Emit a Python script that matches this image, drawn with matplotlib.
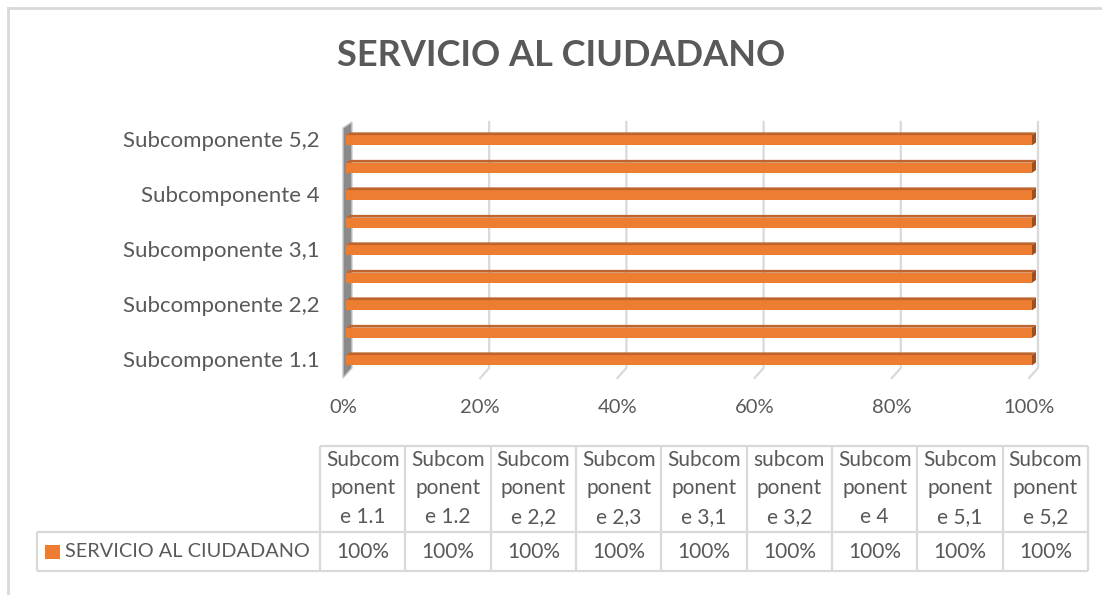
import matplotlib
matplotlib.use("Agg")
import matplotlib.pyplot as plt
from matplotlib.patches import Polygon, Rectangle

plt.rcParams['font.family'] = ['Lato', 'DejaVu Sans']

W, H = 1102, 595

titulo = 'SERVICIO AL CIUDADANO'
serie = 'SERVICIO AL CIUDADANO'
categorias = ['Subcomponente 1.1', 'Subcomponente 1.2', 'Subcomponente 2,2',
              'Subcomponente 2,3', 'Subcomponente 3,1', 'subcomponente 3,2',
              'Subcomponente 4', 'Subcomponente 5,1', 'Subcomponente 5,2']
valors = [1.0, 1.0, 1.0, 1.0, 1.0, 1.0, 1.0, 1.0, 1.0]
ticks_x = [0.0, 0.2, 0.4, 0.6, 0.8, 1.0]
ticks_x_labels = ['0%', '20%', '40%', '60%', '80%', '100%']

gris_text = '#595959'
gris_linia = '#D9D9D9'
taronja = '#ED7D31'
taronja_fosc = '#BE642C'
taronja_cap = '#9E4F1F'


def rect_px(x0, y0, x1, y1):
    return [x0 / W, 1 - y1 / H, (x1 - x0) / W, (y1 - y0) / H]


fig = plt.figure(figsize=(W / 100, H / 100), dpi=100)

# capa de fons en pixels per a vores i taula
fons = fig.add_axes([0, 0, 1, 1])
fons.set_xlim(0, W)
fons.set_ylim(H, 0)
fons.axis('off')

fons.plot([8, 8], [H, 8], color=gris_linia, lw=2)
fons.plot([8, W], [8, 8], color=gris_linia, lw=2)

fons.text(561, 55, titulo, ha='center', va='center', fontsize=26,
          fontweight='bold', color=gris_text)

# grafic de barres
ax = fig.add_axes(rect_px(343, 125.5, 1032, 373))
ax.set_xlim(0, 1)
ax.set_ylim(-0.5, len(categorias) - 0.5)
for s in ax.spines.values():
    s.set_visible(False)
ax.patch.set_alpha(0)

px_x = 1 / 689
px_y = 1 / 27.5
y_fons_dalt = 8.5 + 3.5 * px_y
y_fons_baix = -0.5 + 5 * px_y
y_front_baix = -0.5 - 5 * px_y

# linies de quadricula (pla del fons + terra inclinat)
for v in ticks_x[1:]:
    xb = v + 6 * px_x
    xf = v - 3 * px_x
    ax.plot([xb, xb, xf], [y_fons_dalt, y_fons_baix, y_front_baix],
            color=gris_linia, lw=1.6, clip_on=False, zorder=1)

# paret esquerra
paret = Polygon([(-3 * px_x, y_front_baix), (6 * px_x, y_fons_baix),
                 (6 * px_x, y_fons_dalt), (-3 * px_x, y_fons_dalt - 6 * px_y)],
                closed=True, facecolor='#8A8A8A', edgecolor='#C8C8C8', lw=1,
                clip_on=False, zorder=2)
ax.add_patch(paret)

# barres 3D
alt_front = 0.37
alt_top = 0.1
for i, v in enumerate(valors):
    y0 = i - 0.22
    y1 = y0 + alt_front
    ax.barh(y0 + alt_front / 2, v, height=alt_front, left=0,
            color=taronja, edgecolor='none', zorder=3)
    dx = 4 * px_x
    ax.add_patch(Polygon([(0, y1), (v, y1), (v + dx, y1 + alt_top), (dx, y1 + alt_top)],
                         closed=True, facecolor=taronja_fosc, edgecolor='none',
                         clip_on=False, zorder=3))
    ax.add_patch(Polygon([(v, y0), (v + dx, y0 + alt_top), (v + dx, y1 + alt_top), (v, y1)],
                         closed=True, facecolor=taronja_cap, edgecolor='none',
                         clip_on=False, zorder=3))

ax.set_xticks([t - 3 * px_x for t in ticks_x])
ax.set_xticklabels(ticks_x_labels, fontsize=14.5, color=gris_text)
ax.set_yticks(range(0, len(categorias), 2))
ax.set_yticklabels(categorias[::2], fontsize=16, color=gris_text)
ax.tick_params(axis='x', length=0, pad=19)
ax.tick_params(axis='y', length=0, pad=17)

# taula de dades
col_x0 = 320
col_w = 85.33
y_top, y_mid, y_bot = 446, 532, 571
n = len(categorias)
x_end = col_x0 + col_w * n
kw = dict(color=gris_linia, lw=1.6, solid_capstyle='butt')
fons.plot([col_x0, x_end], [y_top, y_top], **kw)
fons.plot([37, x_end], [y_mid, y_mid], **kw)
fons.plot([37, x_end], [y_bot, y_bot], **kw)
fons.plot([37, 37], [y_mid, y_bot], **kw)
for k in range(n + 1):
    xk = col_x0 + col_w * k
    fons.plot([xk, xk], [y_top, y_bot], **kw)

for k, (nom, v) in enumerate(zip(categorias, valors)):
    xc = col_x0 + col_w * (k + 0.5)
    trossos = [nom[:6], nom[6:12], nom[12:]]
    for j, t in enumerate(trossos):
        fons.text(xc, 460 + 28.5 * j, t, ha='center', va='center',
                  fontsize=15, color=gris_text)
    fons.text(xc, 552, f'{v:.0%}', ha='center', va='center',
              fontsize=15, color=gris_text)

fons.add_patch(Rectangle((45, 545), 15, 14, facecolor=taronja, edgecolor='none'))
fons.text(65, 551.5, serie, ha='left', va='center', fontsize=14.3, color=gris_text)

fig.savefig('out.png', dpi=100)
